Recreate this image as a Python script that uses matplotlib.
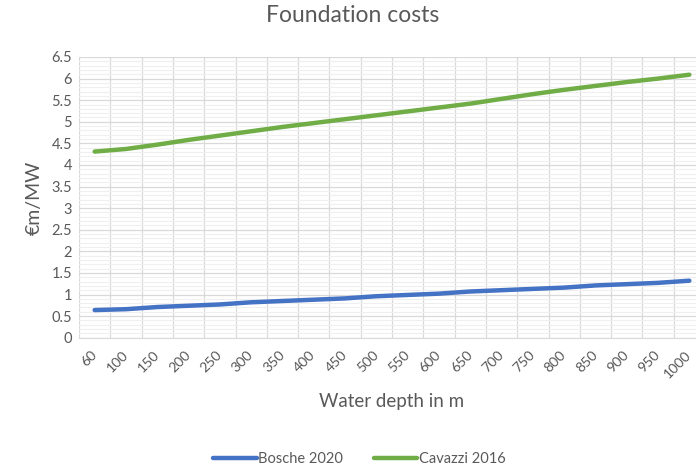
import numpy as np
import matplotlib
matplotlib.use("Agg")
import matplotlib.pyplot as plt
from matplotlib.ticker import MultipleLocator, FixedLocator

plt.rcParams['font.family'] = ['Lato', 'DejaVu Sans']

# water depth categories (m)
depths = ["60", "100", "150", "200", "250", "300", "350", "400", "450", "500",
          "550", "600", "650", "700", "750", "800", "850", "900", "950", "1000"]

# foundation cost in EUR m / MW
bosche_2020 = [0.64, 0.66, 0.71, 0.74, 0.77, 0.82, 0.85, 0.88, 0.91, 0.96,
               0.99, 1.02, 1.07, 1.10, 1.13, 1.16, 1.21, 1.24, 1.27, 1.32]
cavazzi_2016 = [4.31, 4.37, 4.47, 4.58, 4.68, 4.78, 4.88, 4.97, 5.06, 5.15,
                5.24, 5.33, 5.42, 5.53, 5.64, 5.74, 5.83, 5.92, 6.00, 6.09]

grey = "#595959"
x = np.arange(len(depths))

fig = plt.figure(figsize=(6.96, 4.70), dpi=100)
ax = fig.add_axes([79 / 696, 1 - 337.7 / 470, (705 - 79) / 696, (337.7 - 57) / 470])

ax.plot(x, bosche_2020, color="#4472C4", lw=3.2, solid_capstyle="round", label="Bosche 2020", zorder=3)
ax.plot(x, cavazzi_2016, color="#70AD47", lw=3.2, solid_capstyle="round", label="Cavazzi 2016", zorder=3)

ax.set_xlim(-0.5, len(depths) - 0.5)
ax.set_ylim(0, 6.5)
yt = np.arange(0, 6.51, 0.5)
ax.set_yticks(yt)
ax.set_yticklabels(["%g" % v for v in yt])
ax.yaxis.set_minor_locator(MultipleLocator(0.1))

ax.set_xticks(x)
ax.set_xticklabels(depths, rotation=45, ha="right", va="center", rotation_mode="anchor")
ax.xaxis.set_minor_locator(FixedLocator(np.arange(-0.5, len(depths), 1.0)))

ax.grid(which="major", axis="y", color="#d9d9d9", lw=0.9)
ax.grid(which="minor", axis="y", color="#efefef", lw=0.8)
ax.grid(which="minor", axis="x", color="#d9d9d9", lw=0.9)
ax.set_axisbelow(True)

for s in ax.spines.values():
    s.set_visible(False)
ax.spines["bottom"].set_visible(True)
ax.spines["bottom"].set_color("#d9d9d9")

ax.tick_params(which="both", length=0, labelsize=10.5, labelcolor=grey)
ax.tick_params(axis="x", pad=11, labelsize=10.2)
ax.tick_params(axis="y", pad=5)

ax.set_ylabel("€m/MW", fontsize=14, color=grey, labelpad=6)
ax.set_xlabel("Water depth in m", fontsize=13.5, color=grey, labelpad=9)

fig.text(0.507, 1 - 16 / 470, "Foundation costs", ha="center", va="center",
         fontsize=16.5, color=grey)

leg = fig.legend(loc="center", bbox_to_anchor=(0.516, 1 - 459 / 470), ncol=2,
                 frameon=False, fontsize=10.5, handlelength=3.0,
                 handletextpad=0.1, columnspacing=2.1)
for t in leg.get_texts():
    t.set_color(grey)

fig.savefig("out.png", dpi=100)
